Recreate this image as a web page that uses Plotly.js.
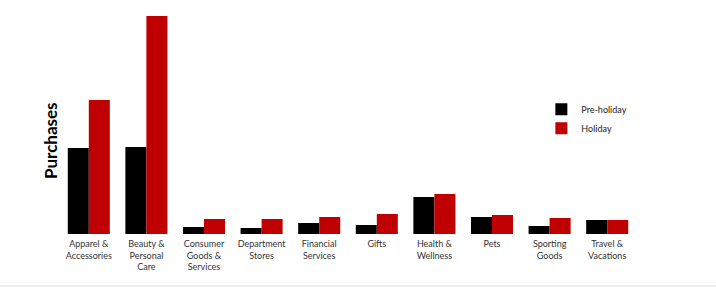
<!DOCTYPE html>
<html>
<head>
<meta charset="utf-8">
<script src="https://cdn.plot.ly/plotly-3.0.1.min.js"></script>
<style>html,body{margin:0;padding:0;background:#fff;}#chart{width:716px;height:287px;}</style>
</head>
<body>
<div id="chart"></div>
<script>
var categories = ["Apparel &<br>Accessories", "Beauty &<br>Personal<br>Care", "Consumer<br>Goods &<br>Services", "Department<br>Stores", "Financial<br>Services", "Gifts", "Health &<br>Wellness", "Pets", "Sporting<br>Goods", "Travel &<br>Vacations"];
var preHoliday = [86, 87, 7, 6, 11, 9, 37, 17, 8, 14];
var holiday = [134, 218, 15, 15, 17, 20, 40, 19, 16, 14];
var seriesNames = ["Pre-holiday", "Holiday"];

var traces = [
  {type: "bar", name: seriesNames[0], x: categories, y: preHoliday, marker: {color: "#000000", line: {width: 0}}},
  {type: "bar", name: seriesNames[1], x: categories, y: holiday, marker: {color: "#c00000", line: {width: 0}}}
];

var layout = {
  width: 716, height: 287,
  margin: {l: 60, r: 80, t: 15, b: 53, pad: 0},
  paper_bgcolor: "#ffffff", plot_bgcolor: "#ffffff",
  barmode: "group", bargap: 0.27, bargroupgap: 0,
  font: {family: "Lato, 'Open Sans', sans-serif", color: "#333333", size: 9},
  xaxis: {type: "category", showgrid: false, showline: false, zeroline: false, ticks: "",
          tickfont: {size: 9, color: "#333333"}, tickangle: 0, ticklabelstandoff: 3},
  yaxis: {range: [0, 219], showgrid: false, showline: false, zeroline: false, showticklabels: false, ticks: ""},
  showlegend: true,
  legend: {x: 0.8357, y: 0.636, xanchor: "left", yanchor: "top", bgcolor: "rgba(0,0,0,0)",
           font: {size: 9, color: "#222222"}},
  annotations: [{
    text: "<b>Purchases</b>", xref: "paper", yref: "paper", x: -0.0174, y: 0.429,
    xanchor: "center", yanchor: "middle", textangle: -90, showarrow: false,
    font: {size: 17, color: "#000000", family: "Lato, 'Open Sans', sans-serif"}
  }],
  shapes: [{type: "rect", xref: "paper", yref: "paper", x0: -0.2, x1: 1.3, y0: -0.242, y1: -0.233,
            fillcolor: "#eeeeee", line: {width: 0}, layer: "below"}]
};

Plotly.newPlot("chart", traces, layout, {displayModeBar: false, staticPlot: true});
</script>
</body>
</html>
